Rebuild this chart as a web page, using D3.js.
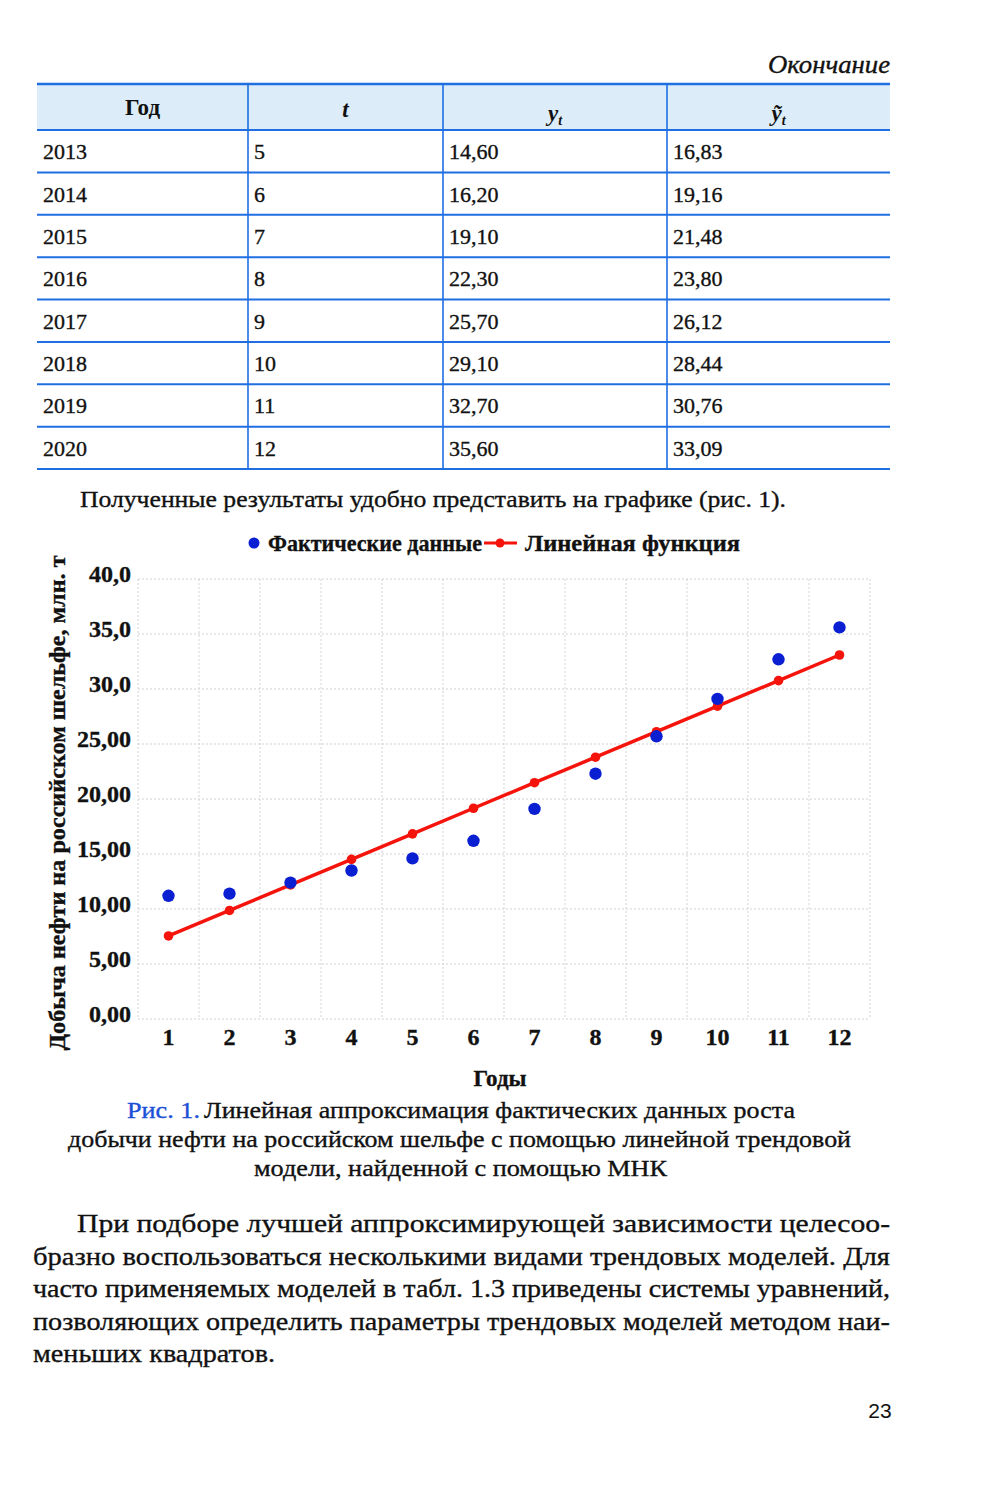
<!DOCTYPE html>
<html>
<head>
<meta charset="utf-8">
<script src="https://cdn.jsdelivr.net/npm/d3@7"></script>
<style>
  html, body { margin: 0; padding: 0; background: #ffffff; }
  svg { display: block; }
  text { font-family: "Liberation Serif", "Times New Roman", serif; fill: #111; }
  text.heavy { stroke: #111; stroke-width: 0.35px; }
</style>
</head>
<body>
<div id="chart"></div>
<script>
// ---------- DATA ----------
const tableYears = ["2013", "2014", "2015", "2016", "2017", "2018", "2019", "2020"];
const tableT = ["5", "6", "7", "8", "9", "10", "11", "12"];
const tableY = ["14,60", "16,20", "19,10", "22,30", "25,70", "29,10", "32,70", "35,60"];
const tableYHat = ["16,83", "19,16", "21,48", "23,80", "26,12", "28,44", "30,76", "33,09"];

const periods = [1, 2, 3, 4, 5, 6, 7, 8, 9, 10, 11, 12];
const actualValues = [11.2, 11.4, 12.4, 13.5, 14.6, 16.2, 19.1, 22.3, 25.7, 29.1, 32.7, 35.6];
const trendValues = [7.55, 9.87, 12.19, 14.51, 16.83, 19.16, 21.48, 23.80, 26.12, 28.44, 30.76, 33.09];
const yTickValues = [0, 5, 10, 15, 20, 25, 30, 35, 40];
const yTickLabels = ["0,00", "5,00", "10,00", "15,00", "20,00", "25,00", "30,0", "35,0", "40,0"];

const legendLabels = ["Фактические данные", "Линейная функция"];
const yAxisTitle = "Добыча нефти на российском шельфе, млн. т";
const xAxisTitle = "Годы";

// ---------- SVG ----------
const W = 1000, H = 1493;
const svg = d3.select("#chart").append("svg").attr("width", W).attr("height", H);

const BLUE_LINE = "#1f6fe3";
const DOT_BLUE = "#0a1ed2";
const RED = "#f5140c";

// ---------- HEADER WORD ----------
svg.append("text").attr("class", "heavy").attr("x", 890).attr("y", 73).attr("text-anchor", "end")
  .attr("font-style", "italic").attr("font-size", 25)
  .attr("textLength", 122).attr("lengthAdjust", "spacingAndGlyphs")
  .text("Окончание");

// ---------- TABLE ----------
const tLeft = 37, tRight = 890, tTop = 84, tHeadBottom = 130, tBottom = 469;
const colEdges = [tLeft, 248, 443, 667, tRight];
const rowScale = d3.scaleBand().domain(tableYears).range([tHeadBottom, tBottom]);

svg.append("rect").attr("x", tLeft).attr("y", tTop).attr("width", tRight - tLeft)
  .attr("height", tHeadBottom - tTop).attr("fill", "#dcedf9");

const hLines = [tTop, tHeadBottom].concat(tableYears.map(d => rowScale(d) + rowScale.bandwidth()));
svg.selectAll("line.h").data(hLines).join("line")
  .attr("x1", tLeft).attr("x2", tRight).attr("y1", d => d).attr("y2", d => d)
  .attr("stroke", BLUE_LINE).attr("stroke-width", (d, i) => i === 0 ? 2.6 : 2);
svg.selectAll("line.v").data(colEdges.slice(1, 4)).join("line")
  .attr("x1", d => d).attr("x2", d => d).attr("y1", tTop).attr("y2", tBottom)
  .attr("stroke", BLUE_LINE).attr("stroke-width", 1.6);

const headCenters = colEdges.slice(0, 4).map((d, i) => (d + colEdges[i + 1]) / 2);
svg.append("text").attr("x", headCenters[0]).attr("y", 115).attr("text-anchor", "middle")
  .attr("font-weight", "bold").attr("font-size", 23).text("Год");
svg.append("text").attr("x", headCenters[1]).attr("y", 117).attr("text-anchor", "middle")
  .attr("font-weight", "bold").attr("font-style", "italic").attr("font-size", 23).text("t");
const yh = svg.append("text").attr("x", headCenters[2]).attr("y", 121).attr("text-anchor", "middle")
  .attr("font-weight", "bold").attr("font-style", "italic").attr("font-size", 23);
yh.append("tspan").text("y");
yh.append("tspan").attr("font-size", 14).attr("dy", 4).text("t");
const yh2 = svg.append("text").attr("x", headCenters[3]).attr("y", 121).attr("text-anchor", "middle")
  .attr("font-weight", "bold").attr("font-style", "italic").attr("font-size", 23);
yh2.append("tspan").text("ỹ");
yh2.append("tspan").attr("font-size", 14).attr("dy", 4).text("t");

const tableCols = [tableYears, tableT, tableY, tableYHat];
tableCols.forEach((col, ci) => {
  svg.selectAll(null).data(col).join("text")
    .attr("class", "heavy")
    .attr("x", colEdges[ci] + 6)
    .attr("y", (d, i) => rowScale(tableYears[i]) + rowScale.bandwidth() / 2 + 8)
    .attr("font-size", 22)
    .text(d => d);
});

// ---------- INTRO SENTENCE ----------
svg.append("text").attr("class", "heavy").attr("x", 80).attr("y", 507).attr("font-size", 24)
  .attr("textLength", 706).attr("lengthAdjust", "spacingAndGlyphs")
  .text("Полученные результаты удобно представить на графике (рис. 1).");

// ---------- CHART ----------
const plot = { left: 138, right: 870, top: 579, bottom: 1019 };
const x = d3.scaleBand().domain(periods).range([plot.left, plot.right]);
const y = d3.scaleLinear().domain([0, 40]).range([plot.bottom, plot.top]);

const g = svg.append("g");
const vGrid = periods.map(p => x(p)).concat([plot.right]);
g.selectAll("line.vg").data(vGrid).join("line")
  .attr("x1", d => d).attr("x2", d => d).attr("y1", plot.top).attr("y2", plot.bottom)
  .attr("stroke", "#d6cfd3").attr("stroke-width", 1).attr("stroke-dasharray", "2,2");
g.selectAll("line.hg").data(yTickValues).join("line")
  .attr("x1", plot.left).attr("x2", plot.right).attr("y1", d => y(d)).attr("y2", d => y(d))
  .attr("stroke", "#d6cfd3").attr("stroke-width", 1).attr("stroke-dasharray", "2,2");

const yAxis = d3.axisLeft(y).tickValues(yTickValues).tickSize(0).tickPadding(7)
  .tickFormat((d, i) => yTickLabels[i]);
const ya = svg.append("g").attr("transform", `translate(${plot.left},0)`).call(yAxis);
ya.select(".domain").remove();
ya.selectAll("text").attr("class", "heavy").attr("font-size", 24).attr("font-weight", "bold")
  .attr("fill", "#111").attr("dy", "0.1em");

const xAxis = d3.axisBottom(x).tickSize(0).tickPadding(9);
const xa = svg.append("g").attr("transform", `translate(0,${plot.bottom})`).call(xAxis);
xa.select(".domain").remove();
xa.selectAll("text").attr("class", "heavy").attr("font-size", 24).attr("font-weight", "bold")
  .attr("fill", "#111");

const cx = p => x(p) + x.bandwidth() / 2;
const line = d3.line().x((d, i) => cx(periods[i])).y(d => y(d));
svg.append("path").datum(trendValues).attr("d", line)
  .attr("fill", "none").attr("stroke", RED).attr("stroke-width", 3.5);
svg.selectAll("circle.tr").data(trendValues).join("circle")
  .attr("cx", (d, i) => cx(periods[i])).attr("cy", d => y(d)).attr("r", 4.8).attr("fill", RED);

svg.selectAll("circle.ac").data(actualValues).join("circle")
  .attr("cx", (d, i) => cx(periods[i])).attr("cy", d => y(d)).attr("r", 6.2).attr("fill", DOT_BLUE);

// legend
svg.append("circle").attr("cx", 254).attr("cy", 543).attr("r", 5.5).attr("fill", DOT_BLUE);
svg.append("text").attr("class", "heavy").attr("x", 268).attr("y", 551).attr("font-size", 24)
  .attr("font-weight", "bold")
  .attr("textLength", 214).attr("lengthAdjust", "spacingAndGlyphs").text(legendLabels[0]);
svg.append("line").attr("x1", 484).attr("x2", 517).attr("y1", 543).attr("y2", 543)
  .attr("stroke", RED).attr("stroke-width", 3);
svg.append("circle").attr("cx", 500).attr("cy", 543).attr("r", 4.5).attr("fill", RED);
svg.append("text").attr("class", "heavy").attr("x", 525).attr("y", 551).attr("font-size", 24)
  .attr("font-weight", "bold")
  .attr("textLength", 215).attr("lengthAdjust", "spacingAndGlyphs").text(legendLabels[1]);

// axis titles
svg.append("text").attr("class", "heavy").attr("transform", "translate(65,803) rotate(-90)")
  .attr("text-anchor", "middle").attr("font-weight", "bold")
  .attr("font-size", 24).attr("textLength", 495).attr("lengthAdjust", "spacingAndGlyphs")
  .text(yAxisTitle);
svg.append("text").attr("class", "heavy").attr("x", 500).attr("y", 1086).attr("text-anchor", "middle")
  .attr("font-size", 23).attr("font-weight", "bold")
  .attr("textLength", 53).attr("lengthAdjust", "spacingAndGlyphs")
  .text(xAxisTitle);

// ---------- CAPTION ----------
svg.append("text").attr("x", 127).attr("y", 1118).attr("font-size", 23)
  .style("fill", "#1b4fd6").style("stroke", "#1b4fd6").style("stroke-width", "0.35px")
  .attr("textLength", 73).attr("lengthAdjust", "spacingAndGlyphs").text("Рис. 1.");
svg.append("text").attr("class", "heavy").attr("x", 204).attr("y", 1118).attr("font-size", 23)
  .attr("textLength", 591).attr("lengthAdjust", "spacingAndGlyphs")
  .text("Линейная аппроксимация фактических данных роста");
svg.append("text").attr("class", "heavy").attr("x", 68).attr("y", 1147).attr("font-size", 23)
  .attr("textLength", 783).attr("lengthAdjust", "spacingAndGlyphs")
  .text("добычи нефти на российском шельфе с помощью линейной трендовой");
svg.append("text").attr("class", "heavy").attr("x", 254).attr("y", 1176).attr("font-size", 23)
  .attr("textLength", 413).attr("lengthAdjust", "spacingAndGlyphs")
  .text("модели, найденной с помощью МНК");

// ---------- BODY PARAGRAPH ----------
const bodyLines = [
  { t: "При подборе лучшей аппроксимирующей зависимости целесоо-", x: 77, w: 813 },
  { t: "бразно воспользоваться несколькими видами трендовых моделей. Для", x: 33, w: 857 },
  { t: "часто применяемых моделей в табл. 1.3 приведены системы уравнений,", x: 33, w: 857 },
  { t: "позволяющих определить параметры трендовых моделей методом наи-", x: 33, w: 857 },
  { t: "меньших квадратов.", x: 33, w: 242 }
];
svg.selectAll("text.body").data(bodyLines).join("text")
  .attr("class", "heavy")
  .attr("x", d => d.x).attr("y", (d, i) => 1232 + i * 32.5)
  .attr("font-size", 26)
  .attr("textLength", d => d.w).attr("lengthAdjust", "spacingAndGlyphs")
  .text(d => d.t);

svg.append("text").attr("x", 880).attr("y", 1418).attr("text-anchor", "middle")
  .style("font-family", "'Liberation Sans Narrow', 'Liberation Sans', sans-serif")
  .attr("font-size", 21).text("23");
</script>
</body>
</html>
